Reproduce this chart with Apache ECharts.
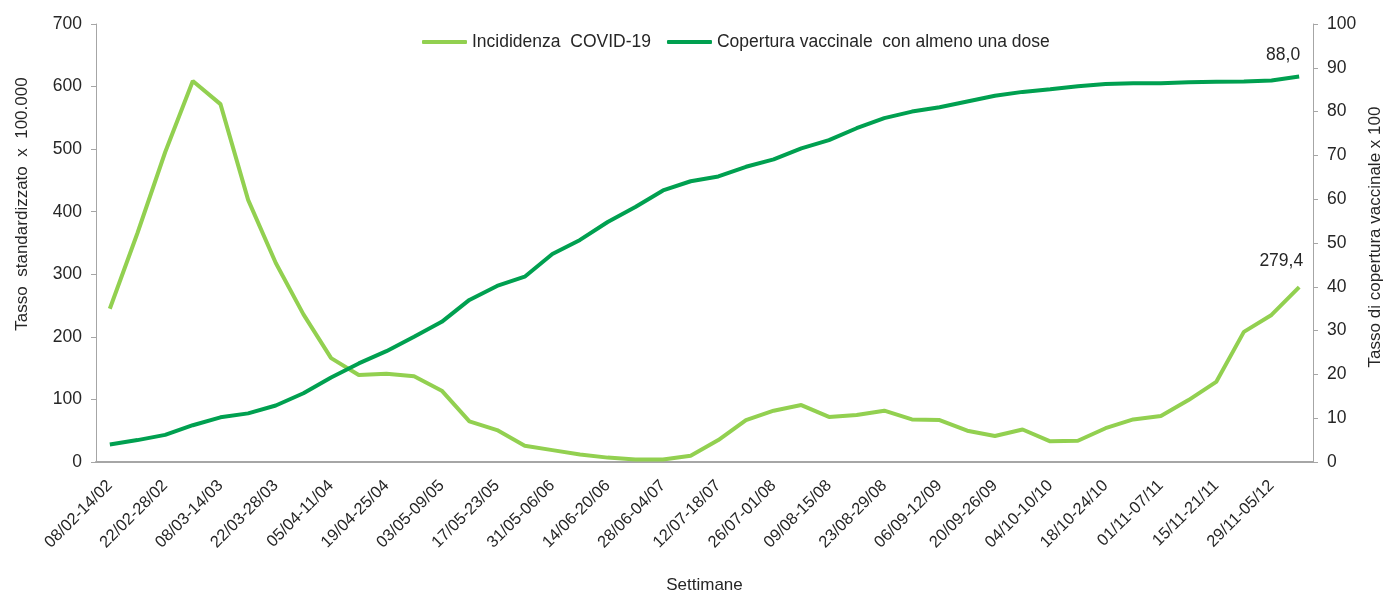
<!DOCTYPE html>
<html>
<head>
<meta charset="utf-8">
<script src="https://cdn.jsdelivr.net/npm/echarts@6/dist/echarts.min.js"></script>
<style>
  html, body { margin: 0; padding: 0; background: #fff; }
  #chart { width: 1385px; height: 593px; }
</style>
</head>
<body>
<div id="chart"></div>
<script>
var weeks = [
  '08/02-14/02', '15/02-21/02', '22/02-28/02', '01/03-07/03', '08/03-14/03', '15/03-21/03',
  '22/03-28/03', '29/03-04/04', '05/04-11/04', '12/04-18/04', '19/04-25/04', '26/04-02/05',
  '03/05-09/05', '10/05-16/05', '17/05-23/05', '24/05-30/05', '31/05-06/06', '07/06-13/06',
  '14/06-20/06', '21/06-27/06', '28/06-04/07', '05/07-11/07', '12/07-18/07', '19/07-25/07',
  '26/07-01/08', '02/08-08/08', '09/08-15/08', '16/08-22/08', '23/08-29/08', '30/08-05/09',
  '06/09-12/09', '13/09-19/09', '20/09-26/09', '27/09-03/10', '04/10-10/10', '11/10-17/10',
  '18/10-24/10', '25/10-31/10', '01/11-07/11', '08/11-14/11', '15/11-21/11', '22/11-28/11',
  '29/11-05/12', '06/12-12/12'
];

// incidenza settimanale, tasso standardizzato x 100.000
var incidenza = [
  245, 366, 495, 609, 572, 419, 318, 236, 166, 139, 141, 137,
  114, 65, 51, 26, 19, 12, 7, 4, 4, 10, 35, 67,
  82, 91, 72, 75, 82, 68, 67, 50, 41.5, 52, 33, 34,
  54, 68, 73.5, 99, 128, 208, 235, 279.4
];

// copertura vaccinale con almeno una dose, x 100
var copertura = [
  4.0, 5.0, 6.2, 8.4, 10.2, 11.1, 12.9, 15.7, 19.3, 22.5, 25.3, 28.6,
  32.0, 37.0, 40.2, 42.3, 47.5, 50.7, 54.8, 58.2, 62.0, 64.1, 65.2, 67.4,
  69.1, 71.6, 73.5, 76.2, 78.5, 80.0, 81.0, 82.3, 83.6, 84.5, 85.1, 85.8,
  86.3, 86.5, 86.5, 86.7, 86.8, 86.9, 87.1, 88.0
];

var leftTicks = [0, 700, 100];
var rightTicks = [0, 100, 10];

var lightGreen = '#92d050';
var darkGreen = '#00a050';
var axisGrey = '#a6a6a6';
var txt = '#262626';
var font = '"Liberation Sans", Arial, sans-serif';

function lastLabel(arr) {
  return function (p) {
    if (p.dataIndex !== arr.length - 1) return '';
    return arr[p.dataIndex].toFixed(1).replace('.', ',');
  };
}

var chart = echarts.init(document.getElementById('chart'));

var option = {
  animation: false,
  textStyle: { fontFamily: font, color: txt },
  legend: {
    top: 28,
    left: 417,
    itemWidth: 45,
    itemHeight: 4,
    itemGap: 16,
    icon: 'roundRect',
    textStyle: { fontSize: 17.5, color: txt, fontFamily: font },
    data: [
      { name: 'Incididenza  COVID-19', itemStyle: { color: lightGreen } },
      { name: 'Copertura vaccinale  con almeno una dose', itemStyle: { color: darkGreen } }
    ]
  },
  grid: { left: 96, right: 72, top: 24, bottom: 131, outerBoundsMode: 'none' },
  xAxis: {
    type: 'category',
    data: weeks,
    boundaryGap: true,
    name: 'Settimane',
    nameLocation: 'middle',
    nameGap: 115,
    nameTextStyle: { fontSize: 17, color: txt },
    axisLine: { lineStyle: { color: axisGrey, width: 2 } },
    axisTick: { interval: 0, length: 5, lineStyle: { color: axisGrey, width: 2 } },
    axisLabel: { interval: 1, rotate: 45, fontSize: 16.5, color: txt, margin: 21 }
  },
  yAxis: [
    {
      type: 'value',
      min: leftTicks[0],
      max: leftTicks[1],
      interval: leftTicks[2],
      name: 'Tasso  standardizzato  x  100.000',
      nameLocation: 'middle',
      nameGap: 65,
      nameTextStyle: { fontSize: 17, color: txt, padding: [0, 0, 0, 78] },
      axisLine: { show: true, lineStyle: { color: axisGrey, width: 1 } },
      axisTick: { show: true, length: 5, lineStyle: { color: axisGrey } },
      axisLabel: { fontSize: 17.5, color: txt, margin: 14 },
      splitLine: { show: false }
    },
    {
      type: 'value',
      min: rightTicks[0],
      max: rightTicks[1],
      interval: rightTicks[2],
      name: 'Tasso di copertura vaccinale x 100',
      nameLocation: 'middle',
      nameGap: 52,
      nameRotate: 90,
      nameTextStyle: { fontSize: 17, color: txt, padding: [0, 0, 0, 12] },
      axisLine: { show: true, lineStyle: { color: axisGrey, width: 1 } },
      axisTick: { show: true, length: 5, lineStyle: { color: axisGrey } },
      axisLabel: { fontSize: 17.5, color: txt, margin: 14 },
      splitLine: { show: false }
    }
  ],
  series: [
    {
      name: 'Incididenza  COVID-19',
      type: 'line',
      yAxisIndex: 0,
      data: incidenza,
      symbol: 'circle',
      symbolSize: 2,
      showAllSymbol: true,
      itemStyle: { color: 'rgba(0,0,0,0)', borderWidth: 0 },
      lineStyle: { width: 4, color: lightGreen },
      label: {
        show: true,
        position: 'top',
        align: 'right',
        distance: 16,
        offset: [4, 0],
        fontSize: 17.5,
        color: txt,
        formatter: lastLabel(incidenza)
      }
    },
    {
      name: 'Copertura vaccinale  con almeno una dose',
      type: 'line',
      yAxisIndex: 1,
      data: copertura,
      symbol: 'circle',
      symbolSize: 2,
      showAllSymbol: true,
      itemStyle: { color: 'rgba(0,0,0,0)', borderWidth: 0 },
      lineStyle: { width: 4, color: darkGreen },
      label: {
        show: true,
        position: 'top',
        align: 'right',
        distance: 11,
        offset: [1, 0],
        fontSize: 17.5,
        color: txt,
        formatter: lastLabel(copertura)
      }
    }
  ]
};

chart.setOption(option);
</script>
</body>
</html>
